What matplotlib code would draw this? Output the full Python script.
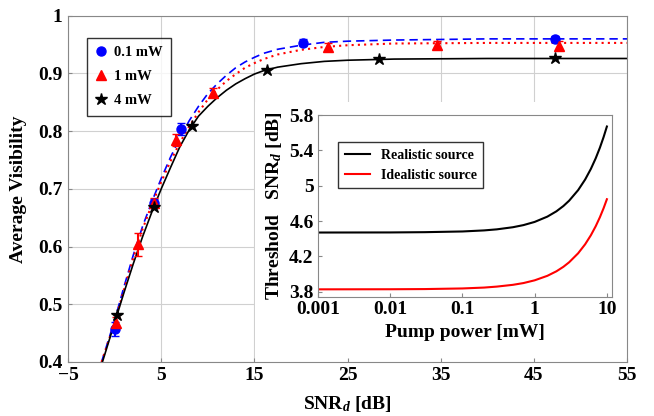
import numpy as np
import matplotlib
matplotlib.use('Agg')
import matplotlib.pyplot as plt
from matplotlib.patches import Rectangle

plt.rcParams['font.family'] = 'Liberation Serif'
plt.rcParams['font.weight'] = 'bold'
plt.rcParams['axes.labelweight'] = 'bold'
plt.rcParams['mathtext.fontset'] = 'custom'
plt.rcParams['mathtext.rm'] = 'Liberation Serif:bold'
plt.rcParams['mathtext.it'] = 'Liberation Serif:italic:bold'

# --- measured visibilities (main panel) ---
snr_01 = [0.04, 4.2, 7.1, 20.2, 47.3]
vis_01 = [0.457, 0.675, 0.804, 0.953, 0.960]
err_01 = [0.012, 0.008, 0.011, 0.006, 0.005]

snr_1 = [0.1, 2.5, 4.2, 6.6, 10.6, 22.9, 34.6, 47.7]
vis_1 = [0.468, 0.604, 0.676, 0.785, 0.867, 0.946, 0.949, 0.948]
err_1 = [0.010, 0.020, 0.008, 0.010, 0.008, 0.006, 0.007, 0.008]

snr_4 = [0.26, 4.2, 8.3, 16.3, 28.4, 47.3]
vis_4 = [0.481, 0.669, 0.809, 0.906, 0.925, 0.926]

# --- fitted curves ---
fit_x = [-1.4, 0, 1, 2, 3, 4, 5, 6, 7, 8, 9, 10, 11, 12, 13, 14, 15, 16, 17.5, 20, 22.5, 25, 30, 40, 55]
fit_y_01 = [0.40, 0.472, 0.53, 0.585, 0.635, 0.678, 0.718, 0.755, 0.788, 0.818, 0.843, 0.865, 0.882,
            0.897, 0.910, 0.920, 0.928, 0.935, 0.942, 0.949, 0.954, 0.956, 0.958, 0.960, 0.960]
fit_y_1 = [0.40, 0.468, 0.525, 0.58, 0.63, 0.673, 0.712, 0.748, 0.78, 0.808, 0.833, 0.855, 0.872,
           0.887, 0.899, 0.910, 0.918, 0.925, 0.933, 0.941, 0.946, 0.949, 0.952, 0.953, 0.953]
fit_y_4 = [0.395, 0.468, 0.52, 0.57, 0.617, 0.66, 0.700, 0.737, 0.773, 0.802, 0.826, 0.843, 0.858,
           0.871, 0.882, 0.891, 0.899, 0.905, 0.911, 0.917, 0.921, 0.923, 0.925, 0.926, 0.926]

# --- inset: threshold SNR vs pump power ---
pump = [0.001, 0.01, 0.03, 0.1, 0.2, 0.3, 0.5, 0.7, 1, 1.5, 2, 2.5, 3, 4, 5, 6, 7, 8, 9, 10]
thr_real = [4.470, 4.471, 4.474, 4.482, 4.494, 4.506, 4.53, 4.554, 4.59, 4.65, 4.71, 4.77, 4.83,
            4.95, 5.07, 5.19, 5.31, 5.43, 5.55, 5.67]
thr_ideal = [3.827, 3.828, 3.830, 3.837, 3.847, 3.858, 3.878, 3.898, 3.929, 3.98, 4.031, 4.082,
             4.133, 4.235, 4.337, 4.439, 4.541, 4.643, 4.745, 4.847]

fig = plt.figure(figsize=(6.54, 4.16), dpi=100)
ax = fig.add_axes([0.104, 0.13, 0.855, 0.832])

frame_col = '#888888'
for x in [-5, 5, 15, 25, 35, 45, 55]:
    ax.axvline(x, color='#d0d0d0', lw=0.8, zorder=0.3)
for y in [0.4, 0.5, 0.6, 0.7, 0.8, 0.9, 1.0]:
    ax.axhline(y, color='#d0d0d0', lw=0.8, zorder=0.3)

# white backdrop for the inset
ax.add_patch(Rectangle((0.335, 0.0), 0.665, 0.751, transform=ax.transAxes,
                       facecolor='white', edgecolor='none', zorder=0.6))

ax.plot(fit_x, fit_y_01, color='blue', ls=(0, (5, 3)), lw=1.2, zorder=2)
ax.plot(fit_x, fit_y_1, color='red', ls=(0, (1, 2)), lw=1.5, zorder=2)
ax.plot(fit_x, fit_y_4, color='black', ls='-', lw=1.2, zorder=2)

ax.errorbar(snr_01, vis_01, yerr=err_01, fmt='none', ecolor='blue', elinewidth=1.5, capsize=3, zorder=3)
ax.errorbar(snr_1, vis_1, yerr=err_1, fmt='none', ecolor='red', elinewidth=1.5, capsize=3, zorder=3)
h1, = ax.plot(snr_01, vis_01, 'o', color='blue', ms=6.5, zorder=4, label='0.1 mW')
h2, = ax.plot(snr_1, vis_1, '^', color='red', ms=6.5, zorder=4, label='1 mW')
h3, = ax.plot(snr_4, vis_4, '*', color='black', ms=9, zorder=4, label='4 mW')

ax.set_xlim(-5, 55)
ax.set_ylim(0.4, 1.0)
ax.set_xticks([-5, 5, 15, 25, 35, 45, 55])
ax.set_xticklabels(['\u22125', '5', '15', '25', '35', '45', '55'])
ax.set_yticks([0.4, 0.5, 0.6, 0.7, 0.8, 0.9, 1.0])
ax.set_yticklabels(['0.4', '0.5', '0.6', '0.7', '0.8', '0.9', '1'])
ax.tick_params(direction='in', length=3, color=frame_col, labelsize=14, pad=4)
for s in ax.spines.values():
    s.set_color(frame_col)
ax.set_xlabel('SNR$_{\\mathit{d}}$ [dB]', fontsize=14, fontweight='bold', labelpad=7)
ax.set_ylabel('Average Visibility', fontsize=14, fontweight='bold', labelpad=8)

leg = ax.legend(handles=[h1, h2, h3], loc='upper left', bbox_to_anchor=(0.034, 0.936),
                borderaxespad=0, fontsize=10.5, frameon=True, fancybox=False, edgecolor='black',
                handlelength=0.8, handletextpad=0.5, labelspacing=0.75, borderpad=0.55)
leg.get_frame().set_linewidth(1.0)

# inset
ins = fig.add_axes([0.486, 0.286, 0.4495, 0.4375])
ins.plot(pump, thr_real, color='black', lw=1.5, label='Realistic source')
ins.plot(pump, thr_ideal, color='red', lw=1.5, label='Idealistic source')
ins.set_xscale('log')
ins.set_xlim(0.001, 11.7)
ins.set_ylim(3.74, 5.8)
ins.set_xticks([0.001, 0.01, 0.1, 1, 10])
ins.set_xticklabels(['0.001', '0.01', '0.1', '1', '10'])
ins.minorticks_off()
ins.set_yticks([3.8, 4.2, 4.6, 5.0, 5.4, 5.8])
ins.set_yticklabels(['3.8', '4.2', '4.6', '5', '5.4', '5.8'])
ins.tick_params(direction='in', length=3, color=frame_col, labelsize=14, pad=3)
for s in ins.spines.values():
    s.set_color(frame_col)
ins.set_xlabel('Pump power [mW]', fontsize=14, fontweight='bold', labelpad=4)
ins.set_ylabel('Threshold   SNR$_{\\mathit{d}}$ [dB]', fontsize=14, fontweight='bold', labelpad=4)
ileg = ins.legend(loc='upper left', bbox_to_anchor=(0.07, 0.85), borderaxespad=0, fontsize=10,
                  frameon=True, fancybox=False, edgecolor='black',
                  handlelength=1.8, borderpad=0.45, labelspacing=0.5)
ileg.get_frame().set_linewidth(1.0)

fig.savefig('out.png', dpi=100)
